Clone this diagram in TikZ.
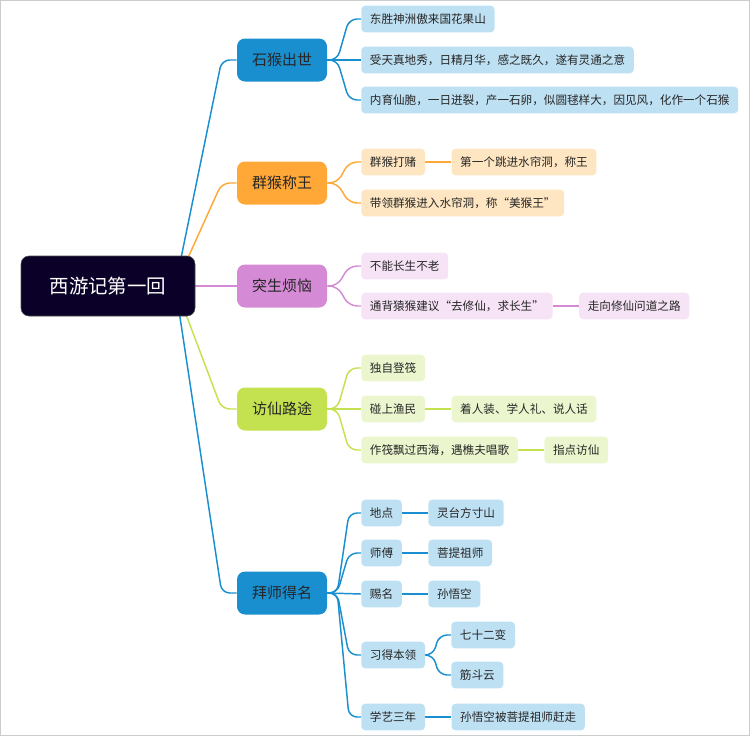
\documentclass[tikz,border=0pt]{standalone}
\usepackage{fontspec}
\newfontfamily\cjk{Noto Sans CJK SC}
\usepackage{tikz}
\usetikzlibrary{positioning, backgrounds, calc}
\definecolor{rootc}{HTML}{0A0028}
\definecolor{cblue}{HTML}{1A8FD0}
\definecolor{corange}{HTML}{FFA838}
\definecolor{cpurple}{HTML}{D58AD5}
\definecolor{clime}{HTML}{C4E250}
\definecolor{lblue}{HTML}{BEE0F3}
\definecolor{lorange}{HTML}{FFE6C2}
\definecolor{lpurple}{HTML}{F6E4F6}
\definecolor{llime}{HTML}{EBF6CE}
\tikzstyle{root} = [rounded corners=6pt, minimum width=130.5pt, minimum height=45pt, text centered, fill=rootc, draw=black!70, text=white, font=\cjk\fontsize{14.6}{17}\selectfont]
\tikzstyle{topic} = [rounded corners=6pt, minimum width=67.5pt, minimum height=32.25pt, text centered, text=black!85, font=\cjk\fontsize{11.25}{13}\selectfont]
\tikzstyle{leaf} = [rounded corners=3pt, minimum height=20pt, inner xsep=6.5pt, anchor=west, text=black!85, font=\cjk\fontsize{8.7}{10}\selectfont]
\tikzstyle{link} = [line width=1.1pt, rounded corners=6pt]

\begin{document}
\begin{tikzpicture}[x=0.75pt, y=-0.75pt]
\useasboundingbox (0,0) rectangle (750,736);
\draw [black!20] (0.5,0.5) rectangle (749.5,735.5);
% centre and main topics
\node (r) [root] at (108,286) {西游记第一回};
\node (a1) [topic, fill=cblue] at (282,60) {石猴出世};
\node (a2) [topic, fill=corange] at (282,183) {群猴称王};
\node (a3) [topic, fill=cpurple] at (282,286) {突生烦恼};
\node (a4) [topic, fill=clime] at (282,409) {访仙路途};
\node (a5) [topic, fill=cblue] at (282,593) {拜师得名};
% 石猴出世
\node (b11) [leaf, fill=lblue] at (361,19) {东胜神洲傲来国花果山};
\node (b12) [leaf, fill=lblue] at (361,60) {受天真地秀，日精月华，感之既久，遂有灵通之意};
\node (b13) [leaf, fill=lblue] at (361,100) {内育仙胞，一日迸裂，产一石卵，似圆毬样大，因见风，化作一个石猴};
% 群猴称王
\node (b21) [leaf, fill=lorange] at (361,162) {群猴打赌};
\node (c21) [leaf, fill=lorange, right=19.5pt of b21] {第一个跳进水帘洞，称王};
\node (b22) [leaf, fill=lorange] at (361,203) {带领群猴进入水帘洞，称“美猴王”};
% 突生烦恼
\node (b31) [leaf, fill=lpurple] at (361,266) {不能长生不老};
\node (b32) [leaf, fill=lpurple] at (361,306) {通背猿猴建议“去修仙，求长生”};
\node (c32) [leaf, fill=lpurple, right=19.5pt of b32] {走向修仙问道之路};
% 访仙路途
\node (b41) [leaf, fill=llime] at (361,368) {独自登筏};
\node (b42) [leaf, fill=llime] at (361,409) {碰上渔民};
\node (c42) [leaf, fill=llime, right=19.5pt of b42] {着人装、学人礼、说人话};
\node (b43) [leaf, fill=llime] at (361,450) {作筏飘过西海，遇樵夫唱歌};
\node (c43) [leaf, fill=llime, right=19.5pt of b43] {指点访仙};
% 拜师得名
\node (b51) [leaf, fill=lblue] at (361,513) {地点};
\node (c51) [leaf, fill=lblue, right=19.5pt of b51] {灵台方寸山};
\node (b52) [leaf, fill=lblue] at (361,553) {师傅};
\node (c52) [leaf, fill=lblue, right=19.5pt of b52] {菩提祖师};
\node (b53) [leaf, fill=lblue] at (361,594) {赐名};
\node (c53) [leaf, fill=lblue, right=19.5pt of b53] {孙悟空};
\node (b54) [leaf, fill=lblue] at (361,655) {习得本领};
\node (c541) [leaf, fill=lblue] at (451,635) {七十二变};
\node (c542) [leaf, fill=lblue] at (451,675) {筋斗云};
\node (b55) [leaf, fill=lblue] at (361,717) {学艺三年};
\node (c55) [leaf, fill=lblue, right=19.5pt of b55] {孙悟空被菩提祖师赶走};

\begin{scope}[on background layer]
% centre to topics
\draw [link, cblue] ([xshift=-15pt]r.east) -- ($(a1.west)+(-15,0)$) -- (a1.west);
\draw [link, corange] ([xshift=-15pt]r.east) -- ($(a2.west)+(-15,0)$) -- (a2.west);
\draw [link, cpurple] ([xshift=-15pt]r.east) -- (a3.west);
\draw [link, clime] ([xshift=-15pt]r.east) -- ($(a4.west)+(-15,0)$) -- (a4.west);
\draw [link, cblue] ([xshift=-15pt]r.east) -- ($(a5.west)+(-15,0)$) -- (a5.west);
% topics to leaves
\draw [link, cblue] (a1.east) -- ++(10,0) -- ($(b11.west)+(-12,0)$) -- (b11.west);
\draw [link, cblue] (a1.east) -- (b12.west);
\draw [link, cblue] (a1.east) -- ++(10,0) -- ($(b13.west)+(-12,0)$) -- (b13.west);
\draw [link, corange] (a2.east) -- ++(10,0) -- ($(b21.west)+(-12,0)$) -- (b21.west);
\draw [link, corange] (a2.east) -- ++(10,0) -- ($(b22.west)+(-12,0)$) -- (b22.west);
\draw [link, corange] (b21) -- (c21);
\draw [link, cpurple] (a3.east) -- ++(10,0) -- ($(b31.west)+(-12,0)$) -- (b31.west);
\draw [link, cpurple] (a3.east) -- ++(10,0) -- ($(b32.west)+(-12,0)$) -- (b32.west);
\draw [link, cpurple] (b32) -- (c32);
\draw [link, clime] (a4.east) -- ++(10,0) -- ($(b41.west)+(-12,0)$) -- (b41.west);
\draw [link, clime] (a4.east) -- (b42.west);
\draw [link, clime] (a4.east) -- ++(10,0) -- ($(b43.west)+(-12,0)$) -- (b43.west);
\draw [link, clime] (b42) -- (c42);
\draw [link, clime] (b43) -- (c43);
\draw [link, cblue] (a5.east) -- ++(10,0) -- ($(b51.west)+(-12,0)$) -- (b51.west);
\draw [link, cblue] (a5.east) -- ++(10,0) -- ($(b52.west)+(-12,0)$) -- (b52.west);
\draw [link, cblue] (a5.east) -- (b53.west);
\draw [link, cblue] (a5.east) -- ++(10,0) -- ($(b54.west)+(-12,0)$) -- (b54.west);
\draw [link, cblue] (a5.east) -- ++(10,0) -- ($(b55.west)+(-12,0)$) -- (b55.west);
\draw [link, cblue] (b51) -- (c51);
\draw [link, cblue] (b52) -- (c52);
\draw [link, cblue] (b53) -- (c53);
\draw [link, cblue] (b54.east) -- ++(8,0) -- ($(c541.west)+(-12,0)$) -- (c541.west);
\draw [link, cblue] (b54.east) -- ++(8,0) -- ($(c542.west)+(-12,0)$) -- (c542.west);
\draw [link, cblue] (b55) -- (c55);
\end{scope}
\end{tikzpicture}
\end{document}
